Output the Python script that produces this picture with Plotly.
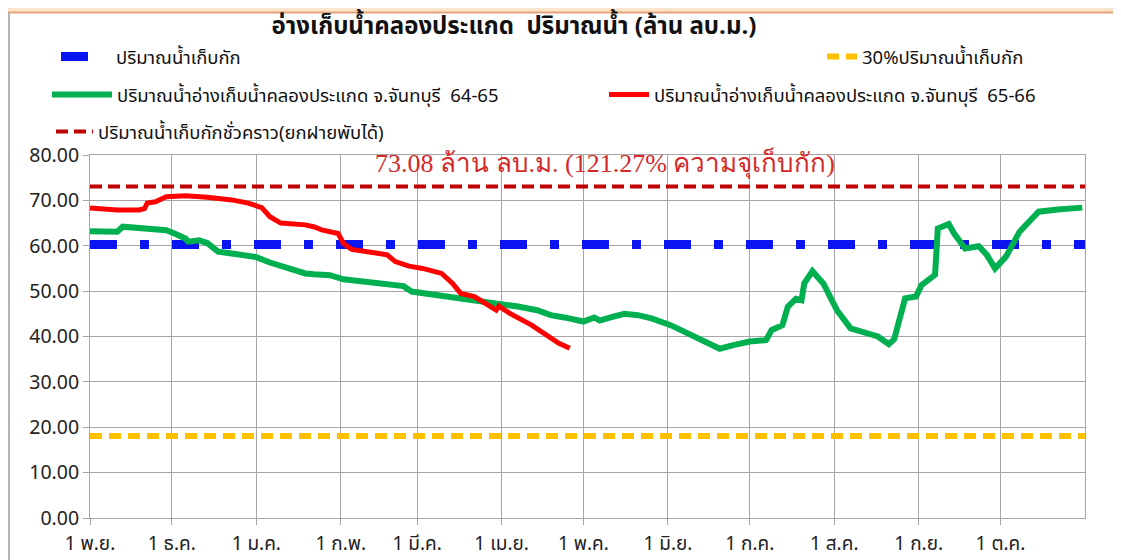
import plotly.graph_objects as go

# ---- data (season axis: 1 Nov -> 1 Nov next year) ----
month_ticks = ["2022-11-01", "2022-12-01", "2023-01-01", "2023-02-01", "2023-03-01", "2023-04-01",
               "2023-05-01", "2023-06-01", "2023-07-01", "2023-08-01", "2023-09-01", "2023-10-01"]
month_labels = ["1 พ.ย.", "1 ธ.ค.", "1 ม.ค.", "1 ก.พ.", "1 มี.ค.", "1 เม.ย.",
                "1 พ.ค.", "1 มิ.ย.", "1 ก.ค.", "1 ส.ค.", "1 ก.ย.", "1 ต.ค."]
season = ["2022-11-01", "2023-11-01"]

capacity = 60.26        # ปริมาณน้ำเก็บกัก
dead_30 = 18.08         # 30%
temp_storage = 73.08    # เก็บกักชั่วคราว

# 64-65 (plotted on the season axis)
green_dates = ["2022-11-01", "2022-11-11", "2022-11-13", "2022-11-17", "2022-11-21", "2022-11-25",
               "2022-11-29", "2022-12-02", "2022-12-06", "2022-12-07", "2022-12-11", "2022-12-14",
               "2022-12-16", "2022-12-18", "2022-12-23", "2022-12-29", "2023-01-01", "2023-01-06",
               "2023-01-13", "2023-01-19", "2023-01-22", "2023-01-28", "2023-02-02", "2023-02-07",
               "2023-02-12", "2023-02-17", "2023-02-24", "2023-02-27", "2023-03-05", "2023-03-10",
               "2023-03-17", "2023-03-23", "2023-03-30", "2023-04-07", "2023-04-14", "2023-04-19",
               "2023-04-24", "2023-05-01", "2023-05-05", "2023-05-07", "2023-05-11", "2023-05-16",
               "2023-05-21", "2023-05-26", "2023-06-02", "2023-06-07", "2023-06-12", "2023-06-17",
               "2023-06-20", "2023-06-25", "2023-07-01", "2023-07-07", "2023-07-09", "2023-07-13",
               "2023-07-15", "2023-07-18", "2023-07-20", "2023-07-21", "2023-07-24", "2023-07-28",
               "2023-08-02", "2023-08-07", "2023-08-12", "2023-08-17", "2023-08-21", "2023-08-23",
               "2023-08-27", "2023-08-31", "2023-09-02", "2023-09-07", "2023-09-08", "2023-09-12",
               "2023-09-14", "2023-09-18", "2023-09-23", "2023-09-26", "2023-09-29", "2023-10-03",
               "2023-10-08", "2023-10-15", "2023-10-22", "2023-10-28", "2023-10-31"]
green_vals = [63.2, 63.1, 64.2, 64.0, 63.8, 63.3,
              63.4, 62.7, 61.6, 60.9, 61.2, 60.6,
              59.8, 58.7, 58.3, 57.7, 57.5, 56.3,
              55.0, 53.9, 53.7, 53.5, 52.6, 52.3,
              51.7, 51.7, 51.1, 49.9, 49.4, 49.1,
              48.4, 48.0, 47.6, 46.6, 45.8, 44.7,
              44.2, 43.3, 44.2, 43.5, 44.2, 45.0,
              44.7, 44.0, 42.5, 41.1, 39.6, 38.5,
              37.3, 38.1, 38.9, 39.2, 41.4, 42.5,
              46.6, 48.3, 48.0, 51.7, 54.4, 51.7,
              45.8, 41.8, 40.8, 40.0, 38.3, 39.4,
              48.4, 48.8, 51.3, 53.6, 63.8, 64.8,
              62.7, 59.4, 59.9, 58.0, 55.0, 57.6,
              63.1, 67.5, 68.0, 68.3, 68.4]

# 65-66
red_dates = ["2022-11-01", "2022-11-11", "2022-11-19", "2022-11-21", "2022-11-22", "2022-11-25",
             "2022-11-29", "2022-12-06", "2022-12-14", "2022-12-23", "2022-12-29", "2023-01-03",
             "2023-01-06", "2023-01-10", "2023-01-19", "2023-01-22", "2023-01-25", "2023-01-31",
             "2023-02-02", "2023-02-05", "2023-02-15", "2023-02-18", "2023-02-21", "2023-02-26",
             "2023-03-03", "2023-03-10", "2023-03-14", "2023-03-17", "2023-03-22", "2023-03-30",
             "2023-03-31", "2023-04-04", "2023-04-12", "2023-04-18", "2023-04-22", "2023-04-26"]
red_vals = [68.3, 67.9, 67.9, 68.2, 69.4, 69.7,
            70.8, 71.0, 70.7, 70.1, 69.4, 68.4,
            66.4, 65.0, 64.6, 64.2, 63.5, 62.7,
            60.5, 59.2, 58.3, 58.0, 56.5, 55.5,
            55.0, 53.9, 51.7, 49.5, 48.8, 45.8,
            46.7, 45.1, 42.5, 40.0, 38.5, 37.4]

THAI = "Tahoma, 'Noto Sans Thai', 'Leelawadee UI', sans-serif"
NB = "\u00a0\u00a0"

fig = go.Figure()

fig.add_trace(go.Scatter(
    x=season, y=[capacity, capacity], mode="lines", name="ปริมาณน้ำเก็บกัก",
    line=dict(color="#0a14f0", width=9, dash="27px,23px,9px,23px"), legend="legend"))
fig.add_trace(go.Scatter(
    x=season, y=[dead_30, dead_30], mode="lines", name="30%ปริมาณน้ำเก็บกัก",
    line=dict(color="#ffc000", width=6, dash="12px,7px"), legend="legend2"))
fig.add_trace(go.Scatter(
    x=green_dates, y=green_vals, mode="lines",
    name="ปริมาณน้ำอ่างเก็บน้ำคลองประแกด จ.จันทบุรี" + NB + "64-65",
    line=dict(color="#00b050", width=6), legend="legend3"))
fig.add_trace(go.Scatter(
    x=red_dates, y=red_vals, mode="lines",
    name="ปริมาณน้ำอ่างเก็บน้ำคลองประแกด จ.จันทบุรี" + NB + "65-66",
    line=dict(color="#ff0000", width=5), legend="legend4"))
fig.add_trace(go.Scatter(
    x=season, y=[temp_storage, temp_storage], mode="lines", name="ปริมาณน้ำเก็บกักชั่วคราว(ยกฝายพับได้)",
    line=dict(color="#c00000", width=4, dash="12px,6px"), legend="legend5"))

fig.add_annotation(
    x="2023-05-09", y=temp_storage, yshift=23, showarrow=False,
    text="73.08 ล้าน ลบ.ม. (121.27% ความจุเก็บกัก)",
    font=dict(family="'Liberation Serif', 'Times New Roman', serif", size=26, color="#d42a2a"))

# page sits 8 px in from the window corner, so positions below are window px - 8
# plot area: x 82..1077, y 147..510 (363 px tall)
fig.add_shape(type="rect", xref="paper", yref="paper", x0=-0.1, x1=1.05,
              y0=(510 - 4) / 363, y1=(510 + 5) / 363,
              fillcolor="#fde4cd", line_width=0, layer="below")
fig.add_shape(type="line", xref="paper", yref="paper", x0=-0.1, x1=1.05,
              y0=(510 - 4.5) / 363, y1=(510 - 4.5) / 363,
              line=dict(color="#e6a57a", width=2))
fig.add_shape(type="line", xref="paper", yref="paper", x0=(1 - 82) / 995, x1=(1 - 82) / 995,
              y0=-0.2, y1=(510 - 5) / 363,
              line=dict(color="#b4b4b4", width=2))


def cx(px):
    return (px - 8) / 1121


def cy(py):
    return 1 - (py - 8) / 560


leg = dict(orientation="h", xref="container", yref="container", xanchor="left", yanchor="middle",
           bgcolor="rgba(0,0,0,0)", font=dict(family=THAI, size=18.5, color="#111"))
fig.update_layout(
    width=1121, height=560,
    margin=dict(l=82, r=44, t=147, b=50, autoexpand=False),
    paper_bgcolor="white", plot_bgcolor="white",
    title=dict(text="<b>อ่างเก็บน้ำคลองประแกด" + NB + "ปริมาณน้ำ (ล้าน ลบ.ม.)</b>",
               x=cx(514), xanchor="center", y=cy(26), yanchor="middle",
               font=dict(family=THAI, size=24, color="#111")),
    legend=dict(leg, x=cx(56), y=cy(57), itemwidth=50),
    legend2=dict(leg, x=cx(822), y=cy(57)),
    legend3=dict(leg, x=cx(47), y=cy(95), itemwidth=60),
    legend4=dict(leg, x=cx(604), y=cy(95), itemwidth=40),
    legend5=dict(leg, x=cx(51), y=cy(132), itemwidth=37),
    showlegend=True,
)
fig.update_xaxes(
    type="date", range=season, tickvals=month_ticks, ticktext=month_labels,
    showgrid=True, gridcolor="#a6a6a6", gridwidth=1,
    showline=True, linecolor="#a6a6a6", mirror=True,
    ticks="outside", ticklen=6, tickcolor="#a6a6a6", ticklabelstandoff=2,
    tickfont=dict(family=THAI, size=19, color="#222"), zeroline=False)
fig.update_yaxes(
    range=[0, 80], dtick=10, tickformat=".2f",
    showgrid=True, gridcolor="#a6a6a6", gridwidth=1,
    showline=True, linecolor="#a6a6a6", mirror=True,
    ticks="outside", ticklen=6, tickcolor="#a6a6a6",
    tickfont=dict(family=THAI, size=19.5, color="#222"), zeroline=False)

fig.write_html("out.html")
